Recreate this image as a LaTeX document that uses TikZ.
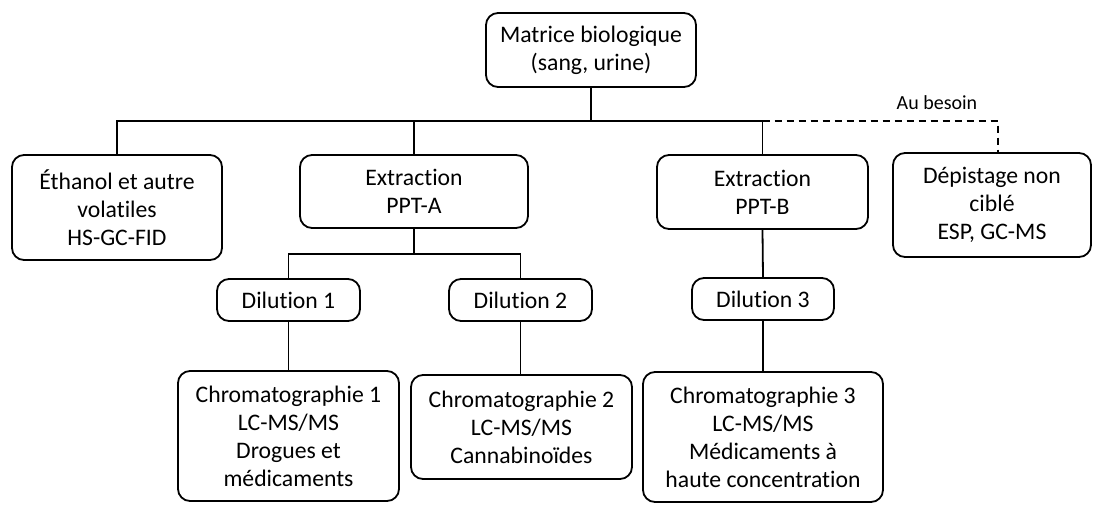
\documentclass[tikz,border=0pt]{standalone}
\usepackage{fontspec}
\setmainfont{Carlito}[Ligatures=NoCommon]
\begin{document}
\begin{tikzpicture}[x=1pt,y=-1pt,
  box/.style={draw, line width=1.8pt, rounded corners=12pt, align=center, inner sep=0pt,
    font=\fontsize{23.7}{28}\selectfont},
  link/.style={line width=1.8pt},
  opt/.style={line width=1.8pt, dash pattern=on 7pt off 5pt}]
\useasboundingbox (0,0) rectangle (1093,504);
\node[box, minimum width=210pt, minimum height=74pt] (mat) at (591,50) {Matrice biologique\\(sang, urine)};
\node[box, minimum width=210pt, minimum height=105pt] (eth) at (117,207.5) {Éthanol et autre\\volatiles\\HS-GC-FID};
\node[box, minimum width=228pt, minimum height=73pt] (ppta) at (414,191.5) {Extraction\\PPT-A};
\node[box, minimum width=211pt, minimum height=74pt] (pptb) at (762.5,192) {Extraction\\PPT-B};
\node[box, minimum width=198pt, minimum height=104pt] (dep) at (992,205) {Dépistage non\\ciblé\\ESP, GC-MS};
\node[box, minimum width=143pt, minimum height=42pt] (d1) at (288.5,300) {Dilution 1};
\node[box, minimum width=143pt, minimum height=42pt] (d2) at (520.5,300) {Dilution 2};
\node[box, minimum width=142pt, minimum height=42pt] (d3) at (763,299) {Dilution 3};
\node[box, minimum width=221pt, minimum height=130pt] (c1) at (288.5,436) {Chromatographie 1\\LC-MS/MS\\Drogues et\\médicaments};
\node[box, minimum width=221pt, minimum height=104pt] (c2) at (521.5,427) {Chromatographie 2\\LC-MS/MS\\Cannabinoïdes};
\node[box, minimum width=240pt, minimum height=130pt] (c3) at (763,437) {Chromatographie 3\\LC-MS/MS\\Médicaments à\\haute concentration};
\coordinate (j1) at (591,121);
\coordinate (jd) at (998,121);
\coordinate (j2) at (414,254);
\node[font=\fontsize{20}{24}\selectfont, inner sep=0pt] (au) at (937,103) {Au besoin};
\draw[link] (mat.south) -- (j1);
\draw[link] (eth.north) -- (eth.north |- j1) -- (pptb.north |- j1) -- (pptb.north);
\draw[link] (ppta.north) -- (ppta.north |- j1);
\draw[opt] (pptb.north |- j1) -- (jd) -- (jd |- dep.north);
\draw[link] (ppta.south) -- (j2);
\draw[link] (d1.north) -- (d1.north |- j2) -- (d2.north |- j2) -- (d2.north);
\draw[link] (d1.south) -- (c1.north);
\draw[link] (d2.south) -- (d2.south |- c2.north);
\draw[link] (pptb.south) -- (d3.north);
\draw[link] (d3.south) -- (c3.north);
\end{tikzpicture}
\end{document}
